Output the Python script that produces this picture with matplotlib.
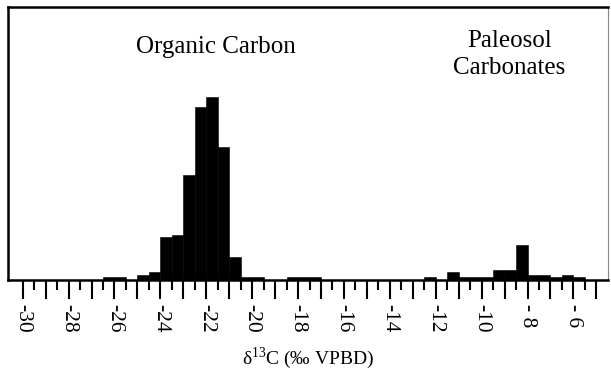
import numpy as np
import matplotlib.pyplot as plt

plt.rcParams['font.family'] = ['Liberation Serif', 'DejaVu Serif']
plt.rcParams['mathtext.fontset'] = 'custom'
plt.rcParams['mathtext.rm'] = 'Liberation Serif'

# Histogram bins (left edge, 0.5 permil wide) and counts
organic_left = [-26.5, -26.0, -25.0, -24.5, -24.0, -23.5, -23.0, -22.5, -22.0,
                -21.5, -21.0, -20.5, -20.0, -18.5, -18.0, -17.5]
organic_counts = [1, 1, 2, 3, 17, 18, 42, 69, 73, 53, 9, 1, 1, 1, 1, 1]

carbonate_left = [-12.5, -11.5, -11.0, -10.5, -10.0, -9.5, -9.0, -8.5, -8.0,
                  -7.5, -7.0, -6.5, -6.0]
carbonate_counts = [1, 3, 1, 1, 1, 4, 4, 14, 2, 2, 1, 2, 1]

major_ticks = [-30, -29, -28, -27, -26, -25, -24, -23, -22, -21, -20, -19, -18,
               -17, -16, -15, -14, -13, -12, -11, -10, -9, -8, -7, -6, -5]
tick_labels = ['-30', '-28', '-26', '-24', '-22', '-20', '-18', '-16', '-14',
               '-12', '-10', '- 8', '- 6']
label_positions = [-30, -28, -26, -24, -22, -20, -18, -16, -14, -12, -10, -8, -6]

fig = plt.figure(figsize=(6.11, 3.75), dpi=100)
ax = fig.add_axes([8 / 611, 1 - 279.5 / 375, 600.3 / 611, 272.5 / 375])

bar_width = 0.5
ax.bar(organic_left, organic_counts, width=bar_width, align='edge',
       color='black', edgecolor='black', linewidth=0.4)
ax.bar(carbonate_left, carbonate_counts, width=bar_width, align='edge',
       color='black', edgecolor='black', linewidth=0.4)

ax.set_xlim(-30.64, -4.48)
ax.set_ylim(0, 109)

# frame
for side in ['top', 'left', 'bottom']:
    ax.spines[side].set_linewidth(1.8)
    ax.spines[side].set_color('black')
ax.spines['right'].set_linewidth(0.8)
ax.spines['right'].set_color('#888888')

ax.set_yticks([])
ax.set_xticks(major_ticks)
ax.set_xticklabels([''] * len(major_ticks))
ax.set_xticks([t + 0.5 for t in major_ticks[:-1]], minor=True)
ax.tick_params(axis='x', which='major', length=13.5, width=1.5, direction='out')
ax.tick_params(axis='x', which='minor', length=7, width=1.5, direction='out')

# rotated tick labels on every second integer
for pos, lab in zip(label_positions, tick_labels):
    ax.annotate(lab, xy=(pos, 0), xycoords=('data', 'axes fraction'),
                xytext=(0, -17.5), textcoords='offset points',
                rotation=-90, ha='center', va='top', fontsize=15.5)

ax.annotate('\u03b4$^{\\mathrm{13}}$C (\u2030 VPBD)', xy=(0.5, 0),
            xycoords='axes fraction', xytext=(0, -47), textcoords='offset points',
            ha='center', va='top', fontsize=14)

ax.text(-21.6, 93, 'Organic Carbon', ha='center', va='center', fontsize=18)
ax.text(-8.8, 90, 'Paleosol\nCarbonates', ha='center', va='center',
        fontsize=18, linespacing=1.3)

fig.savefig('out.png', dpi=100)
